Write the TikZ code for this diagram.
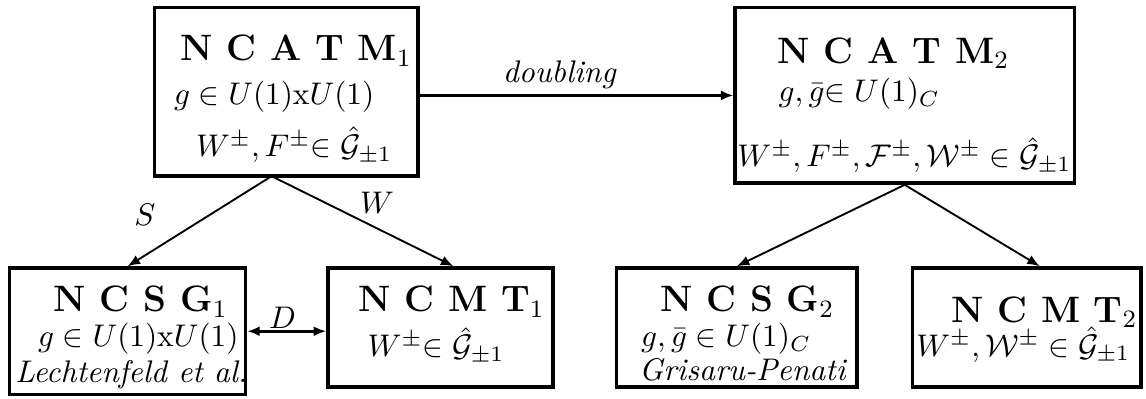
\documentclass[tikz,border=0pt]{standalone}
\usepackage{tikz}
\usetikzlibrary{arrows.meta}

\begin{document}
\begin{tikzpicture}[x=1.031cm,y=1.031cm,
  box/.style={draw=black, line width=1.1pt, fill=white, inner sep=0pt},
  title/.style={anchor=base west, inner sep=0pt, font=\fontsize{11.75}{14}\selectfont},
  entry/.style={anchor=base west, inner sep=0pt},
  link/.style={draw=black, line width=0.6pt, -{Latex[length=4pt,width=3.2pt]}},
  thick link/.style={link, line width=0.9pt}]
\useasboundingbox (0,0) rectangle (12.49,4.34);
\node[box, minimum width=2.96cm, minimum height=1.89cm] (catmA) at (3.12,3.34) {};
\node[box, minimum width=3.81cm, minimum height=1.97cm] (catmB) at (9.86,3.30) {};
\node[box, minimum width=2.65cm, minimum height=1.42cm] (csgA) at (1.39,0.73) {};
\node[box, minimum width=2.53cm, minimum height=1.34cm] (cmtA) at (4.80,0.77) {};
\node[box, minimum width=2.70cm, minimum height=1.34cm] (csgB) at (8.03,0.77) {};
\node[box, minimum width=2.57cm, minimum height=1.34cm] (cmtB) at (11.19,0.77) {};
\node[title] (catmAtitle) at (1.96,3.68) {\textbf{N C A T M}$_1$};
\node[entry] (catmAgroup) at (1.89,3.20) {$g \in U(1)\mathrm{x}U(1)$};
\node[entry] (catmAfields) at (2.13,2.63) {$W^\pm, F^\pm{\in}\;\hat{\mathcal{G}}_{\pm1}$};
\node[title] (catmBtitle) at (8.47,3.65) {\textbf{N C A T M}$_2$};
\node[entry] (catmBgroup) at (8.48,3.23) {$g, \bar{g}{\in}\;U(1)_C$};
\node[entry] (catmBfields) at (8.03,2.52) {$W^\pm, F^\pm, \mathcal{F}^\pm, \mathcal{W}^\pm \in \hat{\mathcal{G}}_{\pm1}$};
\node[title] (csgAtitle) at (0.58,0.94) {\textbf{N C S G}$_1$};
\node[entry] (csgAgroup) at (0.41,0.56) {$g \in U(1)\mathrm{x}U(1)$};
\node[entry] (csgAref) at (0.16,0.17) {\textit{Lechtenfeld et al.}};
\node[title] (cmtAtitle) at (3.90,0.94) {\textbf{N C M T}$_1$};
\node[entry] (cmtAfields) at (4.00,0.45) {$W^\pm{\in}\;\hat{\mathcal{G}}_{\pm1}$};
\node[title] (csgBtitle) at (7.19,0.94) {\textbf{N C S G}$_2$};
\node[entry] (csgBgroup) at (6.98,0.56) {$g, \bar{g} \in U(1)_C$};
\node[entry] (csgBref) at (6.96,0.19) {\textit{Grisaru-Penati}};
\node[title] (cmtBtitle) at (10.36,0.83) {\textbf{N C M T}$_2$};
\node[entry] (cmtBfields) at (9.98,0.46) {$W^\pm, \mathcal{W}^\pm \in \hat{\mathcal{G}}_{\pm1}$};
\coordinate (forkA) at (2.96,2.42);
\draw[thick link] (catmB.west -| catmA.east) -- (catmB.west);
\node (doubling) at (6.10,3.52) {\textit{doubling}};
\draw[link] (forkA) -- (csgA.north);
\draw[link] (forkA) -- (cmtA.78);
\node (Slabel) at (1.58,2.00) {$S$};
\node (Wlabel) at (4.11,2.13) {$W$};
\draw[link] (catmB.south) -- (csgB.north);
\draw[link] (catmB.south) -- (cmtB.78);
\draw[thick link, {Latex[length=4pt,width=3.2pt]}-{Latex[length=4pt,width=3.2pt]}] (csgA.east) -- (csgA.east -| cmtA.west);
\node (Dlabel) at (3.08,0.88) {$D$};
\end{tikzpicture}
\end{document}
